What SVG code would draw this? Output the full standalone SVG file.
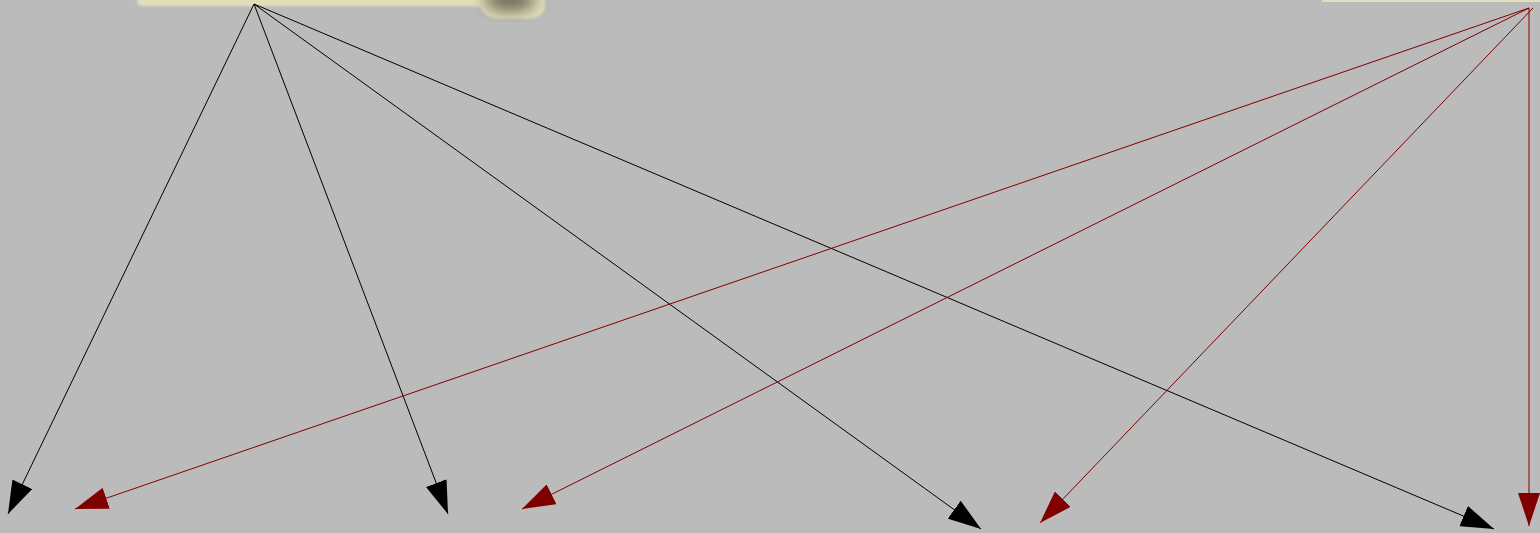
<svg xmlns="http://www.w3.org/2000/svg" width="1540" height="533" viewBox="0 0 1540 533">
  <style>
    .blk { stroke: #000000; stroke-width: 1; fill: none; }
    .red { stroke: #800000; stroke-width: 1; fill: none; }
    .node { fill: #E2DEBC; }
  </style>
  <defs>
    <marker id="ab" markerUnits="userSpaceOnUse" markerWidth="34" markerHeight="22" refX="33" refY="11" orient="auto" viewBox="0 0 34 22">
      <path d="M0,0 L33,11 L0,22 Z" fill="#000000"/>
    </marker>
    <marker id="ar" markerUnits="userSpaceOnUse" markerWidth="34" markerHeight="22" refX="33" refY="11" orient="auto" viewBox="0 0 34 22">
      <path d="M0,0 L33,11 L0,22 Z" fill="#800000"/>
    </marker>
    <filter id="soft" x="-20%" y="-50%" width="140%" height="300%">
      <feGaussianBlur stdDeviation="1"/>
    </filter>
    <filter id="shade" x="-50%" y="-50%" width="200%" height="200%">
      <feGaussianBlur stdDeviation="8"/>
    </filter>
  </defs>
  <rect x="0" y="0" width="1540" height="533" fill="#BBBBBB"/>
  <g id="node-left">
    <path class="node" filter="url(#soft)" d="M137,-10 L545,-10 L545,6 Q544,19 525,19 L500,19 Q484,18 480,7 L465,6 L140,6 Q137,4 137,0 Z"/>
    <ellipse cx="510" cy="0" rx="26" ry="11" fill="#66664F" filter="url(#shade)"/>
  </g>
  <g id="node-right">
    <rect class="node" x="1322" y="-10" width="230" height="12"/>
  </g>
  <g id="connectors">
    <line class="blk" x1="254" y1="4" x2="8" y2="514" marker-end="url(#ab)"/>
    <line class="blk" x1="254" y1="4" x2="448" y2="514" marker-end="url(#ab)"/>
    <line class="blk" x1="254" y1="4" x2="981" y2="529" marker-end="url(#ab)"/>
    <line class="blk" x1="254" y1="4" x2="1494" y2="529" marker-end="url(#ab)"/>
    <line class="red" x1="1529" y1="8" x2="75" y2="509" marker-end="url(#ar)"/>
    <line class="red" x1="1529" y1="8" x2="522" y2="509" marker-end="url(#ar)"/>
    <line class="red" x1="1533" y1="8" x2="1040" y2="523" marker-end="url(#ar)"/>
    <line class="red" x1="1529" y1="8" x2="1529" y2="526" marker-end="url(#ar)"/>
  </g>
</svg>
